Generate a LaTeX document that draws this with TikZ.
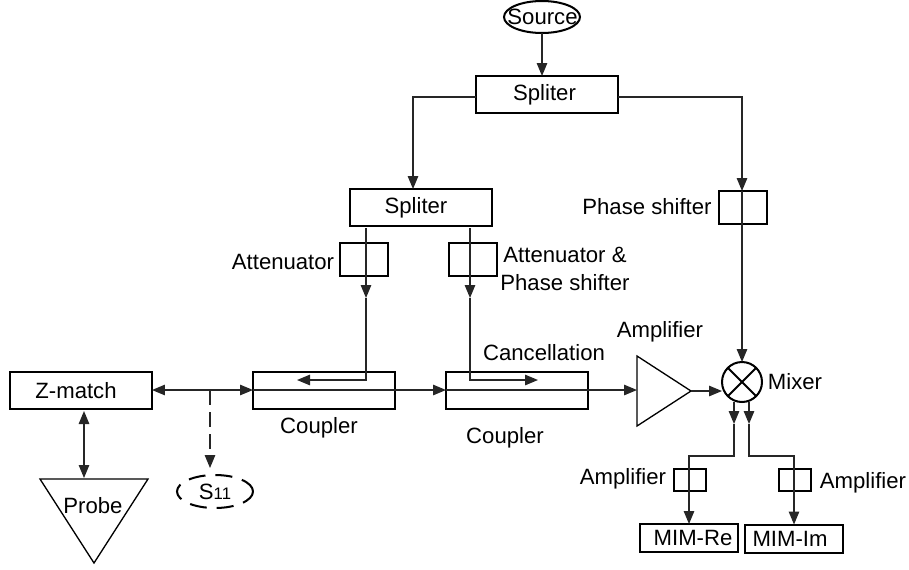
\documentclass[tikz,border=0pt]{standalone}
\usepackage{fontspec}
\setmainfont{Liberation Sans}
\usetikzlibrary{arrows.meta,shapes.geometric}
\tikzset{
  >={Triangle[length=0.26cm,width=0.21cm]},
  every node/.style={font=\fontsize{12.6}{16}\selectfont,inner sep=0pt,outer sep=0pt},
  wire/.style={line width=0.75pt,draw=black!85},
  block/.style={draw,line width=1.15pt,minimum width=2.84cm,minimum height=0.74cm},
  smallblock/.style={draw,line width=1.15pt,minimum width=0.96cm,minimum height=0.66cm},
  ampblock/.style={draw,line width=1.15pt,minimum width=0.64cm,minimum height=0.44cm},
  mimblock/.style={draw,line width=1.15pt,minimum width=1.96cm,minimum height=0.56cm},
}
\begin{document}
\begin{tikzpicture}[x=0.02cm,y=-0.02cm]
\useasboundingbox (0,0) rectangle (909,569);
\node[draw,ellipse,line width=1.15pt,minimum width=1.52cm,minimum height=0.64cm] (source) at (542,17) {};
\node (sourcelabel) at (542.5,17) {Source};
\node[block] (spliterA) at (547,94.5) {\hspace{-0.1cm}Spliter};
\node[block] (spliterB) at (421,207.5) {\hspace{-0.2cm}Spliter};
\node[smallblock] (shiftbox) at (743,207.5) {};
\node[smallblock] (attbox) at (364,259.5) {};
\node[smallblock] (attshiftbox) at (473,259.5) {};
\node[block] (zmatch) at (81,390.5) {\hspace{-0.2cm}Z-match};
\node[block] (couplerA) at (324,390.5) {};
\node[block] (couplerB) at (517,390.5) {};
\node[draw,circle,line width=1.15pt,minimum size=0.8cm] (mixer) at (742,382) {};
\node[ampblock] (ampRe) at (690,480) {};
\node[ampblock] (ampIm) at (795,480) {};
\node[mimblock] (mimRe) at (689,538) {\hspace{0.16cm}MIM-Re};
\node[mimblock] (mimIm) at (794,538.5) {\hspace{-0.16cm}\raisebox{-0.06cm}{MIM-Im}};
\node[draw,ellipse,dashed,dash pattern=on 0.34cm off 0.2cm,line width=1.15pt,minimum width=1.52cm,minimum height=0.66cm] (sparam) at (215,491.5) {S{\fontsize{9.5}{12}\selectfont 11}};
\draw[line width=0.75pt] (637,356) coordinate (ampTop) -- (637,426) -- (691,391) coordinate (ampOut) -- cycle;
\draw[line width=0.75pt] (40,479) -- (148,479) -- (94,563) -- cycle;
\coordinate (ampIn) at (637,390);
\coordinate (probeTop) at (84,478);
\coordinate (zmatchDown) at (84,411);
\coordinate (probeLabelAt) at (93,506);
\draw[line width=1.15pt] (mixer.45) -- (mixer.225);
\draw[line width=1.15pt] (mixer.135) -- (mixer.-45);
\node (probe) at (probeLabelAt) {Probe};
\node (attlabel) at (283,262) {Attenuator};
\node[align=center] (attshiftlabel) at (565,269) {Attenuator \&\\Phase shifter};
\node (shiftlabel) at (647,207) {Phase shifter};
\node (amplabel) at (660,332) {Amplifier};
\node (cancellabel) at (544,353) {Cancellation};
\node (couplerlabelA) at (319,428) {Coupler};
\node (couplerlabelB) at (505,438) {Coupler};
\node (mixerlabel) at (795,382) {Mixer};
\node (amplabelRe) at (623,479) {Amplifier};
\node (amplabelIm) at (863,483) {Amplifier};
\coordinate (splitLeft) at (476,97);
\coordinate (splitRight) at (618,97);
\coordinate (splitBTop) at (413,189);
\coordinate (shiftTop) at (742,191);
\coordinate (tapA) at (366,228);
\coordinate (tapAmid) at (366,298);
\coordinate (tapAend) at (366,380);
\coordinate (tipA) at (297,380);
\coordinate (tapB) at (470,228);
\coordinate (tapBmid) at (470,298);
\coordinate (tapBend) at (470,380);
\coordinate (tipB) at (538,380);
\coordinate (zmatchOut) at (152,390);
\coordinate (couplerAin) at (253,390);
\coordinate (couplerAout) at (395,390);
\coordinate (couplerBin) at (446,390);
\coordinate (sTap) at (210,390);
\coordinate (sTip) at (210,468);
\coordinate (mixerIn) at (722,391);
\coordinate (outRe) at (734,402);
\coordinate (outReMid) at (734,424);
\coordinate (outReTurn) at (734,456);
\coordinate (outIm) at (749,402);
\coordinate (outImMid) at (749,424);
\coordinate (outImTurn) at (749,456);
\begin{scope}[wire]
\draw[->] (source.south) -- (source.south |- spliterA.north);
\draw[->] (splitLeft) -| (splitBTop);
\draw[->] (splitRight) -| (shiftTop);
\draw[->] (shiftTop) -- (mixer.north);
\draw[->] (tapA) -- (tapAmid);
\draw[->] (tapAmid) -- (tapAend) -- (tipA);
\draw[->] (tapB) -- (tapBmid);
\draw[->] (tapBmid) -- (tapBend) -- (tipB);
\draw[<->] (zmatchOut) -- (couplerAin);
\draw[->] (couplerAin) -- (couplerBin);
\draw[->] (couplerBin) -- (ampIn);
\draw[dashed,dash pattern=on 0.3cm off 0.14cm,->] (sTap) -- (sTip);
\draw[<->] (zmatchDown) -- (probeTop);
\draw[->] (ampOut) -- (mixerIn);
\draw[->] (outRe) -- (outReMid);
\draw[->] (outReMid) -- (outReTurn) -| (mimRe.north);
\draw[->] (outIm) -- (outImMid);
\draw[->] (outImMid) -- (outImTurn) -| (mimIm.north);
\end{scope}
\end{tikzpicture}
\end{document}
